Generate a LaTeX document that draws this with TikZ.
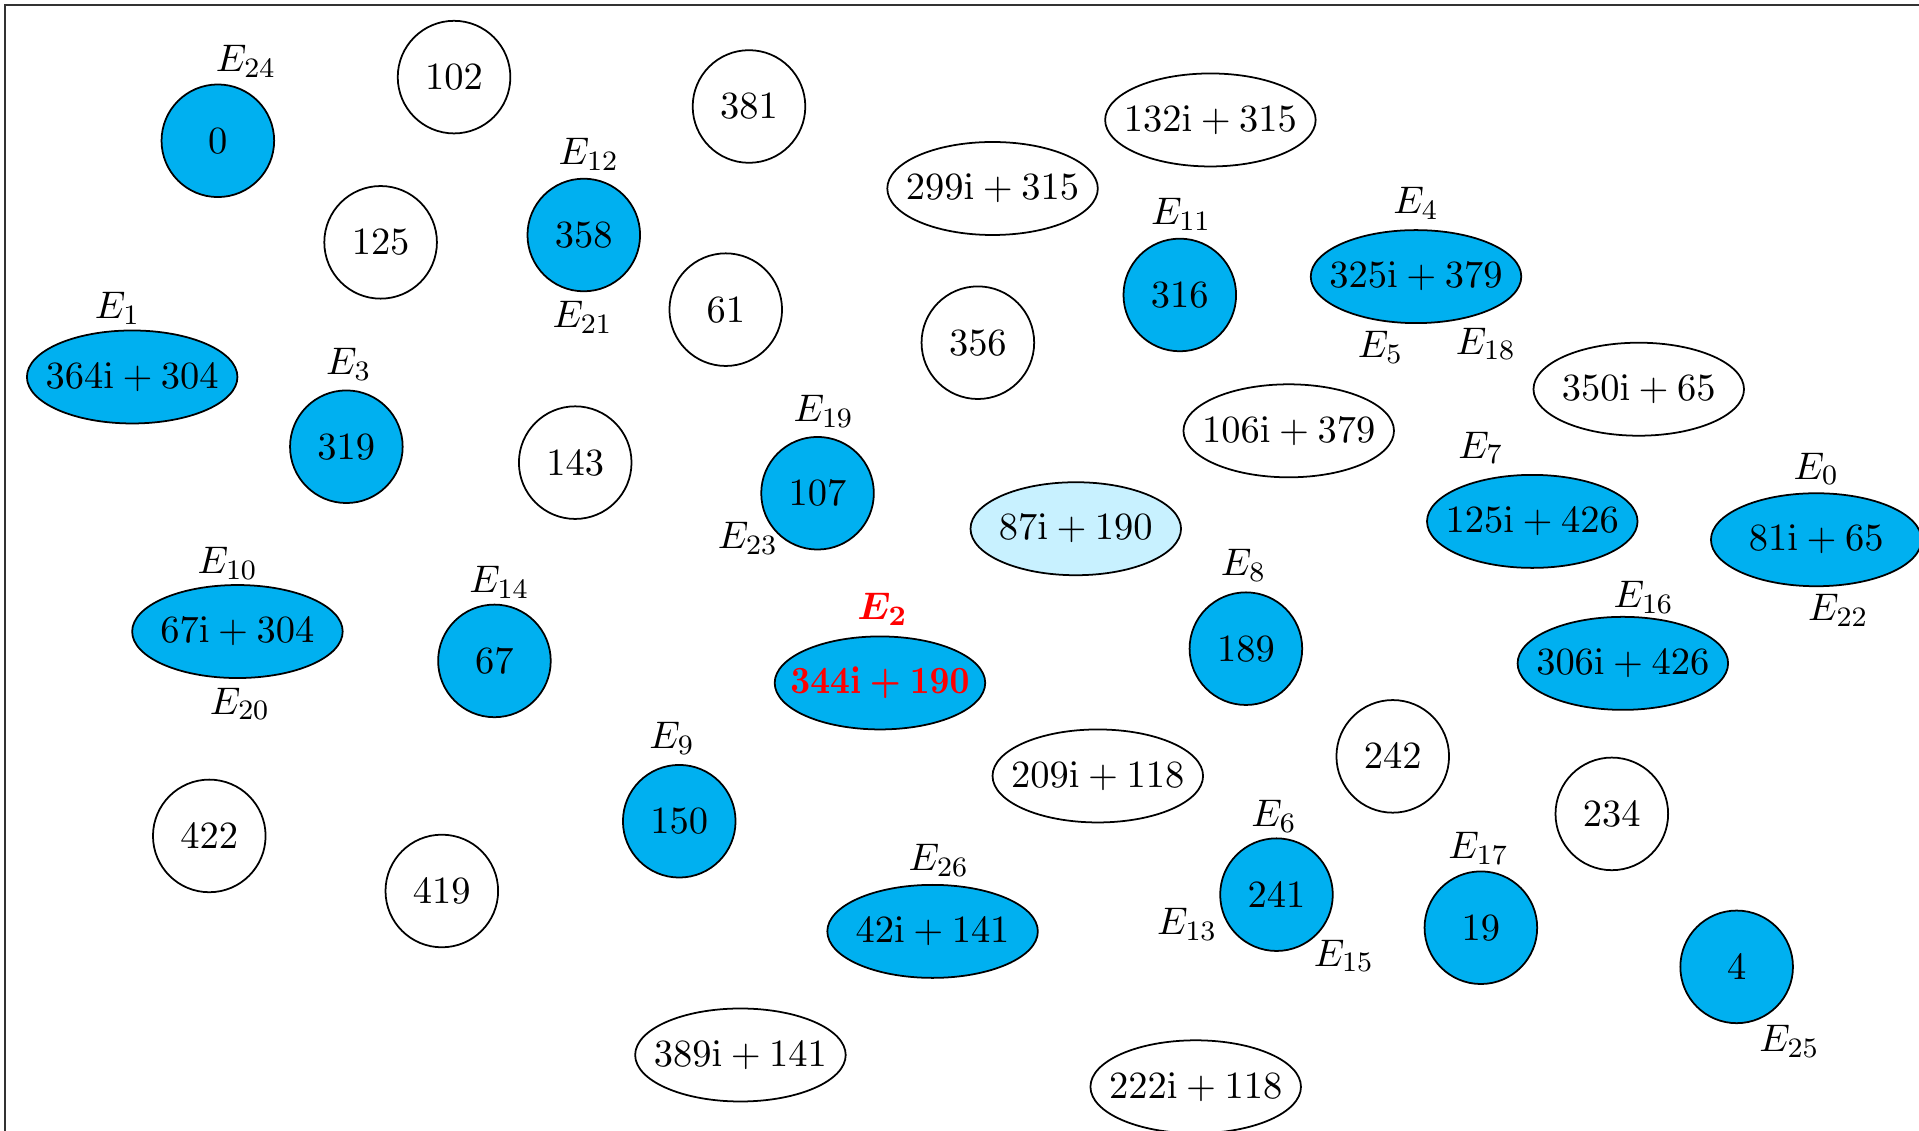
\documentclass[tikz,border=0pt]{standalone}
\usetikzlibrary{shapes.geometric}
\definecolor{nblue}{HTML}{00B0F0}
\definecolor{nlight}{HTML}{C8F1FF}
\definecolor{nred}{HTML}{FF0000}
\tikzset{
  base/.style={draw=black, line width=0.5pt, inner sep=0pt, font=\fontsize{11}{13}\selectfont},
  circw/.style={base, circle, minimum size=1.126cm, fill=white},
  circb/.style={base, circle, minimum size=1.126cm, fill=nblue},
  ellw/.style={base, ellipse, minimum width=2.105cm, minimum height=0.93cm, fill=white},
  ellb/.style={base, ellipse, minimum width=2.105cm, minimum height=0.93cm, fill=nblue},
  elll/.style={base, ellipse, minimum width=2.105cm, minimum height=0.93cm, fill=nlight},
  lab/.style={inner sep=0pt, font=\fontsize{11}{13}\selectfont},
  boldred/.style={text=nred, font=\fontsize{11}{13}\selectfont\boldmath},
}
\newcommand{\cx}[2]{\makebox[0pt]{$#1\mathrm{i}+#2$}}
\begin{document}
\begin{tikzpicture}[x=0.012239cm, y=-0.012239cm]
\useasboundingbox (0,0) rectangle (1568,924);
\clip (0,0) rectangle (1568,924);
\fill[white] (0,0) rectangle (1568,924);
\draw[line width=0.7pt, black!80] (4,940) -- (4,4) -- (1580,4);

% row 1
\node[circb] (n0) at (178,115) {$0$};
\node[lab] (l24) at (201,50) {$E_{24}$};
\node[circw] (n102) at (371,63) {$102$};
\node[circw] (n381) at (612,87) {$381$};
\node[ellw] (n132) at (989,98) {\cx{132}{315}};
\node[ellw] (n299) at (811,154) {\cx{299}{315}};
\node[circw] (n125) at (311,198) {$125$};
\node[circb] (n358) at (477,192) {$358$};
\node[lab] (l12) at (481,126) {$E_{12}$};
\node[lab] (l21) at (476,259) {$E_{21}$};
\node[circw] (n61) at (593,253) {$61$};
\node[circw] (n356) at (799,280) {$356$};
\node[circb] (n316) at (964,241) {$316$};
\node[lab] (l11) at (965,175) {$E_{11}$};
\node[ellb] (n325) at (1157,226) {\cx{325}{379}};
\node[lab] (l4) at (1157,166) {$E_{4}$};
\node[lab] (l5) at (1128,284) {$E_{5}$};
\node[lab] (l18) at (1214,281) {$E_{18}$};

% row 2
\node[ellb] (n364) at (108,308) {\cx{364}{304}};
\node[lab] (l1) at (96,252) {$E_{1}$};
\node[circb] (n319) at (283,365) {$319$};
\node[lab] (l3) at (285,298) {$E_{3}$};
\node[circw] (n143) at (470,378) {$143$};
\node[ellw] (n350) at (1339,318) {\cx{350}{65}};
\node[ellw] (n106) at (1053,352) {\cx{106}{379}};
\node[circb] (n107) at (668,403) {$107$};
\node[lab] (l19) at (673,336) {$E_{19}$};
\node[lab] (l23) at (611,440) {$E_{23}$};
\node[elll] (n87) at (879,432) {\cx{87}{190}};
\node[ellb] (n125i) at (1252,426) {\cx{125}{426}};
\node[lab] (l7) at (1210,366) {$E_{7}$};
\node[ellb] (n81) at (1484,441) {\cx{81}{65}};
\node[lab] (l0) at (1484,383) {$E_{0}$};
\node[lab] (l22) at (1502,499) {$E_{22}$};

% row 3
\node[ellb] (n67i) at (194,516) {\cx{67}{304}};
\node[lab] (l10) at (186,460) {$E_{10}$};
\node[lab] (l20) at (196,575) {$E_{20}$};
\node[circb] (n67) at (404,540) {$67$};
\node[lab] (l14) at (408,476) {$E_{14}$};
\node[ellb, boldred] (n344) at (719,558) {\scalebox{0.9}[1]{\cx{344}{190}}};
\node[lab, boldred] (l2) at (721,498) {$E_{2}$};
\node[circb] (n189) at (1018,530) {$189$};
\node[lab] (l8) at (1016,462) {$E_{8}$};
\node[ellb] (n306) at (1326,542) {\cx{306}{426}};
\node[lab] (l16) at (1343,488) {$E_{16}$};

% row 4
\node[ellw] (n209) at (897,634) {\cx{209}{118}};
\node[circw] (n242) at (1138,618) {$242$};
\node[circw] (n234) at (1317,665) {$234$};
\node[circw] (n422) at (171,683) {$422$};
\node[circw] (n419) at (361,728) {$419$};
\node[circb] (n150) at (555,671) {$150$};
\node[lab] (l9) at (549,603) {$E_{9}$};
\node[ellb] (n42) at (762,761) {\cx{42}{141}};
\node[lab] (l26) at (767,703) {$E_{26}$};
\node[circb] (n241) at (1043,731) {$241$};
\node[lab] (l6) at (1041,667) {$E_{6}$};
\node[lab] (l13) at (970,755) {$E_{13}$};
\node[lab] (l15) at (1098,781) {$E_{15}$};
\node[circb] (n19) at (1210,758) {$19$};
\node[lab] (l17) at (1208,693) {$E_{17}$};
\node[circb] (n4) at (1419,790) {$4$};
\node[lab] (l25) at (1462,851) {$E_{25}$};

% row 5
\node[ellw] (n389) at (605,862) {\cx{389}{141}};
\node[ellw] (n222) at (977,888) {\cx{222}{118}};
\end{tikzpicture}
\end{document}
